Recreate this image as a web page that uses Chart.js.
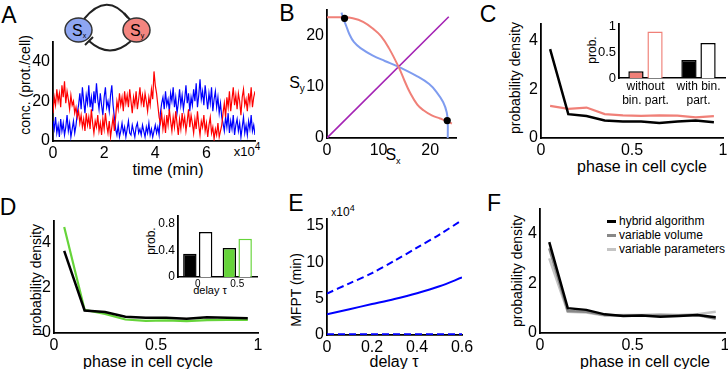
<!DOCTYPE html>
<html>
<head>
<meta charset="utf-8">
<script src="https://cdn.jsdelivr.net/npm/chart.js@4.4.1/dist/chart.umd.min.js"></script>
<style>
html, body { margin: 0; padding: 0; background: #fff; }
#fig { position: relative; width: 728px; height: 369px; overflow: hidden; font-family: "Liberation Sans", Arial, sans-serif; color: #000; }
canvas { position: absolute; }
.t { position: absolute; transform: translate(-50%, -50%); white-space: nowrap; line-height: 1; }
.r { transform: translate(-50%, -50%) rotate(-90deg); }
.leg { position: absolute; left: 607px; font-size: 12px; line-height: 1; white-space: nowrap; transform: translateY(-50%); }
.leg i { display: inline-block; width: 9px; height: 3px; vertical-align: middle; margin-right: 3px; }
</style>
</head>
<body>
<div id="fig">
  <svg width="250" height="60" style="position:absolute;left:0;top:0">
    <path d="M 84 19 Q 107 -9 128 18" fill="none" stroke="#222" stroke-width="2"/>
    <path d="M 124 13 L 132 22" stroke="#222" stroke-width="2"/>
    <path d="M 131 41 Q 110 60 89 41" fill="none" stroke="#222" stroke-width="2"/>
    <path d="M 85 45 L 93 37" stroke="#222" stroke-width="2"/>
    <ellipse cx="78.5" cy="30" rx="13.5" ry="12" fill="#8ea6f2" stroke="#333" stroke-width="1.5"/>
    <ellipse cx="136.5" cy="30" rx="13.5" ry="12" fill="#f3857f" stroke="#333" stroke-width="1.5"/>
    <text x="72" y="36" font-family="Liberation Sans, Arial" font-size="16">S<tspan font-size="7" dy="2">x</tspan></text>
    <text x="130" y="36" font-family="Liberation Sans, Arial" font-size="16">S<tspan font-size="7" dy="2">y</tspan></text>
  </svg>

  <div class="t" style="left:9px;top:15px;font-size:23px">A</div>
  <div class="t" style="left:287px;top:13px;font-size:23px">B</div>
  <div class="t" style="left:488px;top:14px;font-size:23px">C</div>
  <div class="t" style="left:8px;top:207px;font-size:23px">D</div>
  <div class="t" style="left:296px;top:203px;font-size:23px">E</div>
  <div class="t" style="left:494px;top:203px;font-size:23px">F</div>

  <div class="t r" style="left:25px;top:85px;font-size:14px">conc. (prot./cell)</div>
  <div class="t" style="left:168px;top:170px;font-size:16px">time (min)</div>
  <div class="t" style="left:247px;top:151px;font-size:13px">x10<span style="font-size:10px;position:relative;top:-6px">4</span></div>

  <div class="t" style="left:297px;top:83px;font-size:16px">S<span style="font-size:10px;position:relative;top:4px">y</span></div>
  <div class="t" style="left:393px;top:155px;font-size:16px">S<span style="font-size:9px;position:relative;top:4px">x</span></div>

  <div class="t r" style="left:515px;top:78px;font-size:14px">probability density</div>
  <div class="t" style="left:642px;top:167px;font-size:16px">phase in cell cycle</div>
  <div class="t r" style="left:592px;top:50px;font-size:12px">prob.</div>

  <div class="t r" style="left:36px;top:280px;font-size:14px">probability density</div>
  <div class="t" style="left:148px;top:362px;font-size:16px">phase in cell cycle</div>
  <div class="t r" style="left:151px;top:241px;font-size:12px">prob.</div>
  <div class="t" style="left:210px;top:290px;font-size:11px">delay τ</div>

  <div class="t r" style="left:296px;top:290px;font-size:14px">MFPT (min)</div>
  <div class="t" style="left:343px;top:212px;font-size:12px"><span style="font-size:10px">x</span>10<span style="font-size:9px;position:relative;top:-5px">4</span></div>
  <div class="t" style="left:394px;top:362px;font-size:16px">delay τ</div>

  <div class="t r" style="left:517px;top:271px;font-size:14px">probability density</div>
  <div class="t" style="left:645px;top:362px;font-size:16px">phase in cell cycle</div>
  <div class="leg" style="top:221px"><i style="background:#000"></i>hybrid algorithm</div>
  <div class="leg" style="top:235px"><i style="background:#888"></i>variable volume</div>
  <div class="leg" style="top:249px"><i style="background:#c4c4c4"></i>variable parameters</div>
</div>

<script>
// ---- data ----

// A: concentrations, sampled every 500 min
const timeStepA = 500;
const redA = [
  14, 22, 18, 26, 20, 24, 17, 28, 22, 30, 19, 25, 21, 16, 23, 18, 20, 14, 17, 12,
  15, 9, 13, 7, 11, 5, 14, 8, 12, 6, 16, 9, 4, 10, 7, 13, 5, 9, 3, 11, 6, 14, 8, 4, 10, 2, 7, 12, 5,
  12, 20, 16, 24, 18, 22, 15, 25, 19, 23, 17, 26, 20, 14, 22, 18, 25, 16, 21, 27, 19, 23, 17, 24, 20, 15, 22, 18, 26, 21, 35, 28, 24, 18, 12,
  9, 14, 6, 11, 4, 13, 8, 16, 10, 5, 12, 7, 15, 9, 3, 11, 6, 14, 8, 12, 5, 10, 16, 7, 13, 9, 4, 11, 6, 15, 8, 3, 10, 7, 13, 5, 9, 2, 8, 12, 4, 7, 1, 6, 3, 9, 2, 5, 8,
  14, 19, 12, 22, 17, 25, 15, 21, 27, 18, 23, 16, 24, 20, 13, 22, 26, 18, 21, 15, 24, 19, 27, 17, 22, 25, 20, 23
];
const blueA = [
  10, 6, 12, 4, 8, 2, 11, 5, 9, 3, 7, 13, 5, 9, 2, 6, 10, 4, 8, 14,
  18, 24, 16, 27, 20, 14, 23, 19, 28, 17, 22, 15, 25, 19, 29, 21, 16, 24, 18, 13, 22, 27, 17, 20, 15, 23, 28, 18, 12,
  6, 3, 8, 2, 5, 9, 4, 7, 2, 6, 10, 4, 3, 8, 5, 2, 7, 9, 4, 6, 3, 8, 5, 2, 7, 4, 9, 3, 6, 2, 5, 8, 4, 7, 3,
  14, 19, 22, 16, 25, 18, 21, 15, 24, 20, 27, 17, 22, 14, 19, 26, 18, 23, 16, 21, 28, 19, 24, 15, 22, 18, 26, 20, 29, 17, 23, 31, 21, 25, 18, 28, 22, 16, 24, 19, 27, 15, 21, 25, 17, 22, 14, 19, 12,
  9, 5, 12, 7, 14, 4, 10, 6, 13, 3, 8, 11, 5, 9, 2, 7, 12, 4, 8, 3, 10, 6, 13, 5, 8, 3, 7, 5
];
const timeA = redA.map((v, i) => i * timeStepA);
const ticksTimeA = [0, 20000, 40000, 60000];
const ticksConcA = [0, 20, 40];

// B: nullclines
const redNullX = [0, 3, 5, 7, 9, 10.5, 12, 13.9, 15, 16.1, 17.5, 18.7, 20.3, 21.9, 23.2, 24.2];
const redNullY = [23.5, 23.5, 23.3, 22.6, 21.2, 19.8, 17.5, 13.8, 11.2, 8.8, 6.5, 5.4, 4.4, 3.8, 3.3, 2.8];
const blueNullX = [23.4, 23.4, 23.2, 22.5, 21.2, 19.8, 17.5, 13.8, 11.2, 8.8, 6.5, 5.2, 4.3, 3.7, 3.2, 2.8];
const blueNullY = [0, 3, 5, 7, 9, 10.5, 12, 13.9, 15, 16.1, 17.5, 18.7, 20.3, 21.9, 23.2, 24.4];
const diagX = [0, 23.6];
const diagY = [0, 23.6];
const stableX = [3.4, 23.3];
const stableY = [23.3, 3.4];
const ticksB = [0, 10, 20];

// C, D, F: phase histograms
const phase = [0.05, 0.15, 0.25, 0.35, 0.45, 0.55, 0.65, 0.75, 0.85, 0.95];
const ticksPhase = [0, 0.5, 1];
const ticksDensity = [0, 2, 4];
const hybridC = [3.65, 0.98, 0.9, 0.72, 0.68, 0.68, 0.62, 0.68, 0.72, 0.65];
const noBinC = [1.32, 1.2, 1.25, 0.98, 0.93, 0.91, 0.93, 0.92, 0.85, 0.9];
const insetCLabels = [['without', 'bin. part.'], ['with bin.', 'part.']];
const insetCFilled = [0.13, 0.35];
const insetCOpen = [0.9, 0.68];
const ticksInsetC = [0, 0.5, 1];

const hybridD = [3.65, 1.0, 0.93, 0.72, 0.68, 0.68, 0.63, 0.7, 0.68, 0.66];
const delayD = [4.72, 1.03, 0.85, 0.6, 0.54, 0.56, 0.53, 0.57, 0.58, 0.58];
const insetDLabels = ['0', '0.5'];
const insetDFilled = [0.35, 0.44];
const insetDOpen = [0.68, 0.58];
const ticksInsetD = [0, 0.4, 0.8];

// E: mean first passage time vs delay
const delayE = [0, 0.1, 0.2, 0.3, 0.4, 0.5, 0.6];
const mfptMid = [28500, 35500, 42500, 49500, 57500, 67000, 79000];
const mfptHigh = [57000, 71000, 85000, 102000, 120000, 138000, 158000];
const mfptLow = [900, 950, 1000, 1000, 1050, 1100, 1100];
const ticksDelayE = [0, 0.2, 0.4, 0.6];
const ticksMfpt = [0, 50000, 100000, 150000];

// F: comparison of models
const hybridF = [3.65, 1.0, 0.93, 0.75, 0.68, 0.7, 0.65, 0.68, 0.72, 0.63];
const volumeF = [3.4, 0.88, 0.85, 0.72, 0.7, 0.7, 0.7, 0.7, 0.72, 0.57];
const paramsF = [3.0, 0.85, 0.82, 0.7, 0.72, 0.72, 0.75, 0.72, 0.75, 0.85];

// ---- colours ----
const SALMON = '#f08078';
const CORNFLOWER = '#7f9cef';
const PURPLE = '#a424b4';
const GREEN = '#66d43a';

Chart.defaults.font.family = '"Liberation Sans", Arial, sans-serif';
Chart.defaults.color = '#000';
Chart.defaults.plugins.legend.display = false;
Chart.defaults.plugins.tooltip.enabled = false;
Chart.defaults.elements.point.radius = 0;

const fig = document.getElementById('fig');

function pts(xs, ys) {
  return xs.map((x, i) => ({ x: x, y: ys[i] }));
}

function line(xs, ys, color, width, extra) {
  return Object.assign({
    data: pts(xs, ys), borderColor: color, borderWidth: width,
    fill: false, pointRadius: 0, tension: 0
  }, extra || {});
}

// plain labels like matlab: 0, 0.5, 1
const plain = v => String(Math.round(v * 1000) / 1000);

// linear axis with a fixed list of tick values
function linScale(min, max, tickValues, size, cb) {
  return {
    type: 'linear', min: min, max: max,
    grid: { display: false, drawTicks: false },
    border: { color: '#000', width: 1.8 },
    ticks: { padding: 3, font: { size: size }, color: '#000', callback: cb || plain },
    afterBuildTicks: s => { s.ticks = tickValues.map(v => ({ value: v })); }
  };
}

function catScale(size) {
  return {
    type: 'category', offset: true,
    grid: { display: false, drawTicks: false },
    border: { color: '#000', width: 1.6 },
    ticks: { padding: 1, font: { size: size }, color: '#000', maxRotation: 0, autoSkip: false }
  };
}

// places the canvas so that the plot area lands on the given rectangle
function makeChart(area, pad, config) {
  const c = document.createElement('canvas');
  const w = area.r - area.l + pad.l + pad.r;
  const h = area.b - area.t + pad.t + pad.b;
  c.width = w; c.height = h;
  c.style.left = (area.l - pad.l) + 'px';
  c.style.top = (area.t - pad.t) + 'px';
  c.style.width = w + 'px';
  c.style.height = h + 'px';
  fig.appendChild(c);
  config.options.responsive = false;
  config.options.animation = false;
  config.options.layout = { padding: { top: pad.t, right: pad.r, left: 0, bottom: 0 } };
  config.options.scales.x.afterFit = s => { s.height = pad.b; };
  config.options.scales.y.afterFit = s => { s.width = pad.l; };
  return new Chart(c, config);
}

const PAD = { l: 40, r: 16, t: 12, b: 30 };
const PAD_IN = { l: 30, r: 3, t: 9, b: 28 };
const TICK = 16;

// A
makeChart({ l: 53, r: 255, t: 41, b: 141 }, PAD, {
  type: 'line',
  data: { datasets: [
    line(timeA, redA, '#ff0000', 1.2),
    line(timeA, blueA, '#0000ff', 1.2)
  ] },
  options: { scales: {
    x: linScale(0, 79000, ticksTimeA, TICK, v => String(v / 1e4)),
    y: linScale(0, 50, ticksConcA, TICK)
  } }
});

// B
makeChart({ l: 327, r: 456, t: 9, b: 138 }, PAD, {
  type: 'line',
  data: { datasets: [
    line(stableX, stableY, '#000', 0, { showLine: false, pointRadius: 3.6, pointBackgroundColor: '#000', pointBorderWidth: 0 }),
    line(redNullX, redNullY, SALMON, 2, { tension: 0.4 }),
    line(blueNullX, blueNullY, CORNFLOWER, 2, { tension: 0.4 }),
    line(diagX, diagY, PURPLE, 1.6)
  ] },
  options: { scales: {
    x: linScale(0, 25, ticksB, TICK),
    y: linScale(0, 25, ticksB, TICK)
  } }
});

// C
makeChart({ l: 541, r: 723, t: 23, b: 138 }, PAD, {
  type: 'line',
  data: { datasets: [
    line(phase, hybridC, '#000', 2.5),
    line(phase, noBinC, SALMON, 2.2)
  ] },
  options: { scales: {
    x: linScale(0, 1, ticksPhase, TICK),
    y: linScale(0, 4.7, ticksDensity, TICK)
  } }
});

makeChart({ l: 619, r: 725, t: 22, b: 78 }, PAD_IN, {
  type: 'bar',
  data: { labels: insetCLabels, datasets: [
    { data: insetCFilled, backgroundColor: [SALMON, '#000'], borderColor: '#000', borderWidth: 1.5,
      categoryPercentage: 0.72, barPercentage: 0.8 },
    { data: insetCOpen, backgroundColor: '#fff', borderColor: [SALMON, '#000'], borderWidth: 1.5,
      categoryPercentage: 0.72, barPercentage: 0.8 }
  ] },
  options: { scales: {
    x: catScale(12),
    y: linScale(0, 1.05, ticksInsetC, 13)
  } }
});

// D
makeChart({ l: 54, r: 258, t: 220, b: 333 }, PAD, {
  type: 'line',
  data: { datasets: [
    line(phase, hybridD, '#000', 2.5),
    line(phase, delayD, GREEN, 2.2)
  ] },
  options: { scales: {
    x: linScale(0, 1, ticksPhase, TICK),
    y: linScale(0, 5, ticksDensity, TICK)
  } }
});

makeChart({ l: 178, r: 257, t: 215, b: 277 }, { l: 30, r: 3, t: 9, b: 14 }, {
  type: 'bar',
  data: { labels: insetDLabels, datasets: [
    { data: insetDFilled, backgroundColor: ['#000', GREEN], borderColor: '#000', borderWidth: 1.5,
      categoryPercentage: 0.8, barPercentage: 0.85 },
    { data: insetDOpen, backgroundColor: '#fff', borderColor: ['#000', GREEN], borderWidth: 1.5,
      categoryPercentage: 0.8, barPercentage: 0.85 }
  ] },
  options: { scales: {
    x: catScale(10),
    y: linScale(0, 0.92, ticksInsetD, 12)
  } }
});

// E
makeChart({ l: 327, r: 462, t: 218, b: 335 }, PAD, {
  type: 'line',
  data: { datasets: [
    line(delayE, mfptHigh, '#0000ff', 2, { borderDash: [7, 4], tension: 0.3 }),
    line(delayE, mfptMid, '#0000ff', 2, { tension: 0.3 }),
    line(delayE, mfptLow, '#0000ff', 2, { borderDash: [7, 4] })
  ] },
  options: { scales: {
    x: linScale(0, 0.6, ticksDelayE, TICK),
    y: linScale(0, 160000, ticksMfpt, TICK, v => String(v / 1e4))
  } }
});

// F
makeChart({ l: 540, r: 725, t: 208, b: 333 }, PAD, {
  type: 'line',
  data: { datasets: [
    line(phase, hybridF, '#000', 2.5),
    line(phase, volumeF, '#888', 2.5),
    line(phase, paramsF, '#c4c4c4', 2.5)
  ] },
  options: { scales: {
    x: linScale(0, 1, ticksPhase, TICK),
    y: linScale(0, 5, ticksDensity, TICK)
  } }
});
</script>
</body>
</html>
